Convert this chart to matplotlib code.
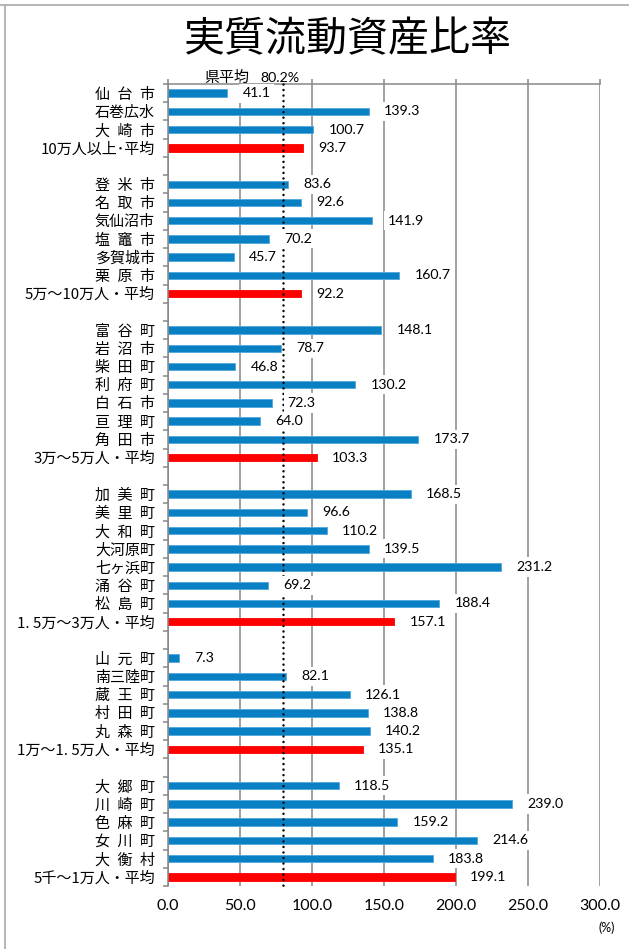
import matplotlib
matplotlib.use("Agg")
import matplotlib.pyplot as plt
from matplotlib.lines import Line2D
import numpy as np

plt.rcParams['font.family'] = ['Noto Sans CJK JP', 'DejaVu Sans']

S = "\u2002"
groups = [
    (["仙" + S + "台" + S + "市", "石巻広水", "大" + S + "崎" + S + "市", "10万人以上･平均"],
     [41.1, 139.3, 100.7, 93.7]),
    (["登" + S + "米" + S + "市", "名" + S + "取" + S + "市", "気仙沼市", "塩" + S + "竈" + S + "市",
      "多賀城市", "栗" + S + "原" + S + "市", "5万～10万人・平均"],
     [83.6, 92.6, 141.9, 70.2, 45.7, 160.7, 92.2]),
    (["富" + S + "谷" + S + "町", "岩" + S + "沼" + S + "市", "柴" + S + "田" + S + "町",
      "利" + S + "府" + S + "町", "白" + S + "石" + S + "市", "亘" + S + "理" + S + "町",
      "角" + S + "田" + S + "市", "3万～5万人・平均"],
     [148.1, 78.7, 46.8, 130.2, 72.3, 64.0, 173.7, 103.3]),
    (["加" + S + "美" + S + "町", "美" + S + "里" + S + "町", "大" + S + "和" + S + "町", "大河原町",
      "七ヶ浜町", "涌" + S + "谷" + S + "町", "松" + S + "島" + S + "町", "1. 5万～3万人・平均"],
     [168.5, 96.6, 110.2, 139.5, 231.2, 69.2, 188.4, 157.1]),
    (["山" + S + "元" + S + "町", "南三陸町", "蔵" + S + "王" + S + "町", "村" + S + "田" + S + "町",
      "丸" + S + "森" + S + "町", "1万～1. 5万人・平均"],
     [7.3, 82.1, 126.1, 138.8, 140.2, 135.1]),
    (["大" + S + "郷" + S + "町", "川" + S + "崎" + S + "町", "色" + S + "麻" + S + "町",
      "女" + S + "川" + S + "町", "大" + S + "衡" + S + "村", "5千～1万人・平均"],
     [118.5, 239.0, 159.2, 214.6, 183.8, 199.1]),
]
pref_avg = 80.2
pref_label = "県平均"
x_ticks = [0, 50, 100, 150, 200, 250, 300]

labels, values, is_avg, ypos = [], [], [], []
pos = 0
for gi, (names, vals) in enumerate(groups):
    if gi > 0:
        pos += 1
    for k, (n, v) in enumerate(zip(names, vals)):
        labels.append(n)
        values.append(v)
        is_avg.append(k == len(names) - 1)
        ypos.append(pos)
        pos += 1
nslots = pos

BLUE = "#0A80C4"
RED = "#FF0000"
GRID = "#868686"

fig = plt.figure(figsize=(6.29, 9.49), dpi=100)
ax = fig.add_axes([168 / 629, 1 - 886 / 949, 432 / 629, (886 - 84) / 949])

colors = [RED if a else BLUE for a in is_avg]
edges = ["#FF0000" if a else "#4FA8DC" for a in is_avg]
ax.barh(ypos, values, height=0.41, color=colors, edgecolor=edges, linewidth=0.6, zorder=2)

ax.set_xlim(0, 300)
ax.set_ylim(nslots - 0.5, -0.5)
ax.set_xticks(x_ticks)
ax.set_xticklabels([f"{t:.1f}" for t in x_ticks], family=['Lato', 'DejaVu Sans'], fontsize=11.5)
ax.tick_params(axis='x', top=True, bottom=False, labeltop=False, labelbottom=True,
               length=3.6, width=1.1, color=GRID, pad=5.8, direction='out')
ax.grid(axis='x', color=GRID, linewidth=1.1, zorder=0.5)
ax.set_axisbelow(True)

ax.set_yticks(ypos)
ax.set_yticklabels(labels, fontsize=10.8)
ax.set_yticks(np.arange(nslots + 1) - 0.5, minor=True)
ax.tick_params(axis='y', which='major', length=0, pad=9.4)
ax.tick_params(axis='y', which='minor', length=3.6, width=1.1, color=GRID, direction='out')

for side in ['right', 'bottom']:
    ax.spines[side].set_visible(False)
for side in ['left', 'top']:
    ax.spines[side].set_color(GRID)
    ax.spines[side].set_linewidth(1.1)

ax.plot([pref_avg, pref_avg], [-0.5, nslots - 0.5], color='black', linewidth=1.8,
        linestyle=(0, (0.01, 2.2)), dash_capstyle='round', zorder=3, clip_on=False)

for y, v in zip(ypos, values):
    ax.annotate(f"{v:.1f}", xy=(v, y), xytext=(11, 0), textcoords='offset points',
                ha='left', va='center', fontsize=10.2, family=['Lato', 'DejaVu Sans'],
                bbox=dict(boxstyle='square,pad=0.25', fc='white', ec='none'), zorder=4)

ax.annotate(pref_label, xy=(pref_avg, -0.5), xytext=(-57, 4.3), textcoords='offset points',
            ha='left', va='center', fontsize=10.8, annotation_clip=False)
ax.annotate(f"{pref_avg:.1f}%", xy=(pref_avg, -0.5), xytext=(-17, 4.3), textcoords='offset points',
            ha='left', va='center', fontsize=10.2, family=['Lato', 'DejaVu Sans'],
            annotation_clip=False)

fig.text(348 / 629, 1 - 40 / 949, "実質流動資産比率", ha='center', va='center', fontsize=29.5)
fig.text(607 / 629, 1 - 928 / 949, "(%)", ha='center', va='center', fontsize=9,
         family=['Lato', 'DejaVu Sans'])

fig.add_artist(Line2D([0, 1], [1 - 5 / 949, 1 - 5 / 949], color="#AAAAAA", linewidth=1.2,
                      transform=fig.transFigure))
fig.add_artist(Line2D([5 / 629, 5 / 629], [0, 1 - 5 / 949], color="#AAAAAA", linewidth=1.2,
                      transform=fig.transFigure))

fig.savefig("out.png", dpi=100)
